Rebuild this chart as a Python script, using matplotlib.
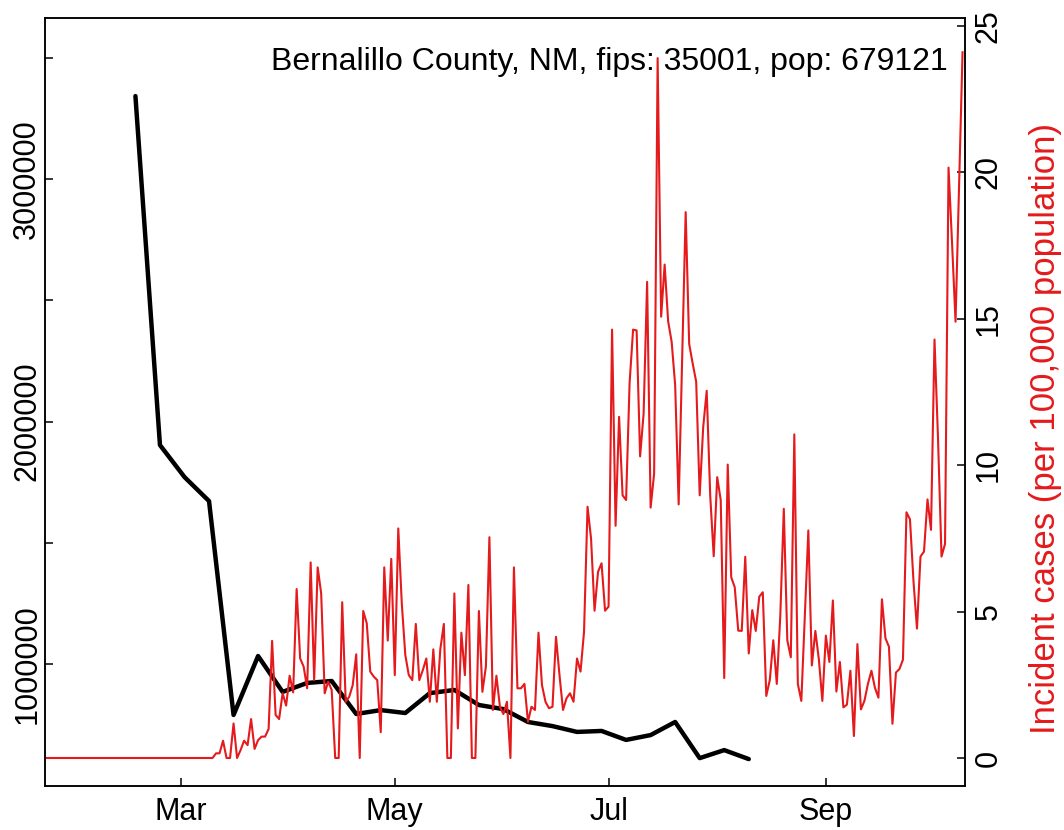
import pandas as pd
import matplotlib
matplotlib.use('Agg')
import matplotlib.pyplot as plt
import matplotlib.dates as mdates

plt.rcParams['font.family'] = ['Liberation Sans', 'DejaVu Sans']

title = 'Bernalillo County, NM, fips: 35001, pop: 679121'
right_label = 'Incident cases (per 100,000 population)'

# weekly series, left axis
black_start = '2020-02-17'
black_vals = [3342000, 1903000, 1771000, 1672000, 790000, 1033000, 885000, 922000,
              930000, 794000, 810000, 798000, 880000, 893000, 831000, 814000,
              761000, 744000, 720000, 724000, 687000, 707000, 761000, 612000,
              645000, 608000]

# daily incident cases per 100k, right axis
red_start = '2020-01-22'
red_vals = [0, 0, 0, 0, 0, 0, 0, 0, 0, 0,
            0, 0, 0, 0, 0, 0, 0, 0, 0, 0,
            0, 0, 0, 0, 0, 0, 0, 0, 0, 0,
            0, 0, 0, 0, 0, 0, 0, 0, 0, 0,
            0, 0, 0, 0, 0, 0, 0, 0, 0,
            0.16, 0.16, 0.59, 0, 0, 1.18, 0, 0.27, 0.59, 0.44,
            1.33, 0.31, 0.61, 0.73, 0.73, 0.99, 4.0, 1.47, 1.33, 2.21,
            1.79, 2.81, 2.24, 5.77, 3.40, 3.12, 2.38, 6.68, 2.66, 6.51,
            5.62, 2.21, 2.61, 2.32, 0, 0, 5.32, 1.92, 2.09, 2.49,
            3.54, 0, 5.02, 4.60, 2.95, 2.78, 2.66, 0.88, 6.51, 4.01,
            6.80, 2.83, 7.84, 5.28, 3.52, 2.83, 2.66, 4.58, 2.66, 3.0,
            3.40, 1.92, 3.71, 1.92, 3.72, 4.58, 0, 0, 5.62, 1.01,
            4.28, 2.83, 5.91, 0, 0, 5.02, 2.26, 3.12, 7.54, 1.64,
            2.81, 1.75, 1.5, 1.92, 0, 6.51, 2.38, 2.38, 2.53, 1.24,
            1.75, 1.64, 4.28, 2.49, 1.92, 1.70,
            1.75, 4.14, 2.83, 1.64, 2.04, 2.21, 1.92, 3.40, 2.95, 4.31,
            8.58, 7.50, 5.03, 6.36, 6.65, 5.03, 5.17,
            14.63, 7.93, 11.65, 8.97, 8.81, 12.81, 14.63, 14.60, 10.30, 11.76,
            16.26, 8.55, 9.71, 23.9, 15.07, 16.85, 14.91, 14.21, 12.74, 8.66,
            13.6, 18.64, 14.14, 13.47, 12.85, 8.97, 11.30, 12.54, 8.97, 6.89,
            9.59, 8.81, 2.73, 10.02, 6.17, 5.83, 4.35,
            4.34, 6.87, 3.57, 5.05, 4.34, 5.51, 5.66, 2.12, 2.66, 4.02,
            2.53, 4.86, 8.51, 4.02, 3.44, 11.05, 2.53, 1.95, 4.86, 7.77,
            3.16, 4.34, 3.37, 1.95, 4.18, 3.28, 5.38, 2.27, 3.28, 1.73,
            1.82, 2.98, 0.75, 3.89, 1.66, 1.95, 2.53, 2.98, 2.40,
            2.06, 5.42, 4.09, 3.80, 1.17, 2.92, 3.04, 3.36, 8.39, 8.15,
            6.04, 4.42, 6.88, 7.05, 8.83, 7.79, 14.29, 10.91, 6.88, 7.31,
            20.16, 17.6, 14.9, 19.5, 24.1]

left_ticks = [1000000, 1500000, 2000000, 2500000, 3000000, 3500000]
left_labels = ['1000000', '', '2000000', '', '3000000', '']
right_ticks = [0, 5, 10, 15, 20, 25]

black_dates = pd.date_range(black_start, periods=len(black_vals), freq='7D')
red_dates = pd.date_range(red_start, periods=len(red_vals), freq='D')

red = '#E41A1C'
fs = 22

fig = plt.figure(figsize=(10.64, 8.30), dpi=100)
ax = fig.add_axes([45 / 1064, 44 / 830, 920 / 1064, 768 / 830])
ax2 = ax.twinx()

ax.plot(black_dates, black_vals, color='black', lw=3.2,
        solid_joinstyle='round', solid_capstyle='round')
ax2.plot(red_dates, red_vals, color=red, lw=1.5)

ax.set_xlim(pd.Timestamp('2020-01-22 04:48'), pd.Timestamp('2020-10-10 16:48'))
ax.set_ylim(497000, 3664000)
ax2.set_ylim(-0.956, 25.27)

ax.xaxis.set_major_locator(mdates.MonthLocator(bymonth=[3, 5, 7, 9]))
ax.xaxis.set_major_formatter(mdates.DateFormatter('%b'))
ax.set_yticks(left_ticks, labels=left_labels)
ax2.set_yticks(right_ticks)

ax.tick_params(axis='x', direction='in', length=6, width=1.1, labelsize=fs, pad=8)
ax.tick_params(axis='y', direction='in', length=6, width=1.1, labelsize=fs, pad=2)
ax2.tick_params(axis='y', direction='in', length=6, width=1.1, labelsize=fs, pad=6)
plt.setp(ax.get_yticklabels(), rotation=90, va='center')
plt.setp(ax2.get_yticklabels(), rotation=90, va='center')

for a in (ax, ax2):
    for s in a.spines.values():
        s.set_linewidth(1.1)

fig.text(948 / 1064, 1 - 70 / 830, title, ha='right', va='baseline', fontsize=23)
fig.text(1046 / 1064, 1 - 429 / 830, right_label, rotation=90, ha='center',
         va='center', color=red, fontsize=25)

fig.savefig('out.png', dpi=100)
